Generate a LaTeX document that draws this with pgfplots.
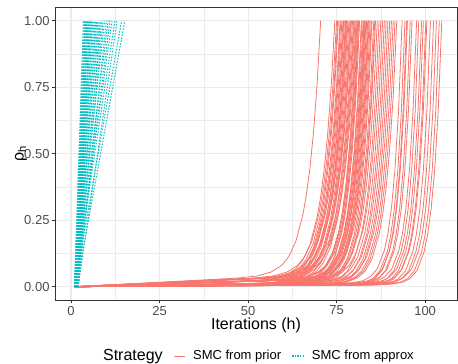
\documentclass[border=0pt]{standalone}
\usepackage{fontspec}
\setmainfont{Liberation Sans}
\usepackage{pgfplots}
\usepackage{pgfplotstable}
\pgfplotsset{compat=1.18}
\definecolor{smcred}{HTML}{F8766D}
\definecolor{smcteal}{HTML}{00BFC4}
\definecolor{gridc}{HTML}{EBEBEB}
\definecolor{axc}{HTML}{333333}
\definecolor{tickc}{HTML}{4D4D4D}

% SMC from prior: groups of runs, each column holds the h values of one run, y = rho_h
\pgfplotstableread{
y n1 n2 n3 n4 n5 n6 n7 n8 n9
0 1 1 1 1 1 1 1 1 1
0.032 46.5 51 52.5 53.8 54 55.2 56.5 52.8 55.8
0.040 52.5 57 58.5 59.8 60 61.2 62.5 58.8 61.8
0.055 56.5 61 62.5 63.8 64 65.2 66.5 62.8 65.8
0.080 59.5 64 65.5 66.8 67 68.2 69.5 65.8 68.8
0.113 61.5 66 67.5 68.8 69 70.2 71.5 67.8 70.8
0.171 63.5 68 69.5 70.8 71 72.2 73.5 69.8 72.8
0.272 65.5 70 71.5 72.8 73 74.2 75.5 71.8 74.8
0.348 66.5 71 72.5 73.8 74 75.2 76.5 72.8 75.8
0.449 67.5 72 73.5 74.8 75 76.2 77.5 73.8 76.8
0.584 68.5 73 74.5 75.8 76 77.2 78.5 74.8 77.8
0.763 69.5 74 75.5 76.8 77 78.2 79.5 75.8 78.8
1 70.5 75 76.5 77.8 78 79.2 80.5 76.8 79.8
}\tAone
\pgfplotstableread{
y n1 n2 n3 n4 n5 n6 n7 n8
0 1 1 1 1 1 1 1 1
0.022 50.5 52 53.5 54.8 55 56 51.3 53.2
0.029 56.5 58 59.5 60.8 61 62 57.3 59.2
0.042 60.5 62 63.5 64.8 65 66 61.3 63.2
0.068 63.5 65 66.5 67.8 68 69 64.3 66.2
0.101 65.5 67 68.5 69.8 70 71 66.3 68.2
0.159 67.5 69 70.5 71.8 72 73 68.3 70.2
0.261 69.5 71 72.5 73.8 74 75 70.3 72.2
0.338 70.5 72 73.5 74.8 75 76 71.3 73.2
0.441 71.5 73 74.5 75.8 76 77 72.3 74.2
0.577 72.5 74 75.5 76.8 77 78 73.3 75.2
0.759 73.5 75 76.5 77.8 78 79 74.3 76.2
1 74.5 76 77.5 78.8 79 80 75.3 77.2
}\tAtwo
\pgfplotstableread{
y n1 n2 n3 n4 n5 n6 n7 n8
0 1 1 1 1 1 1 1 1
0.011 51.5 52.2 53 54.5 55.5 56.2 53.6 54.2
0.017 57.5 58.2 59 60.5 61.5 62.2 59.6 60.2
0.030 61.5 62.2 63 64.5 65.5 66.2 63.6 64.2
0.056 64.5 65.2 66 67.5 68.5 69.2 66.6 67.2
0.089 66.5 67.2 68 69.5 70.5 71.2 68.6 69.2
0.147 68.5 69.2 70 71.5 72.5 73.2 70.6 71.2
0.250 70.5 71.2 72 73.5 74.5 75.2 72.6 73.2
0.329 71.5 72.2 73 74.5 75.5 76.2 73.6 74.2
0.433 72.5 73.2 74 75.5 76.5 77.2 74.6 75.2
0.571 73.5 74.2 75 76.5 77.5 78.2 75.6 76.2
0.755 74.5 75.2 76 77.5 78.5 79.2 76.6 77.2
1 75.5 76.2 77 78.5 79.5 80.2 77.6 78.2
}\tAthree
\pgfplotstableread{
y n1 n2 n3 n4 n5 n6 n7 n8 n9 n10
0 1 1 1 1 1 1 1 1 1 1
0.025 57 57.3 58.5 59.3 60.5 62.5 56.8 58.8 60.8 63.5
0.029 63 63.3 64.5 65.3 66.5 68.5 62.8 64.8 66.8 69.5
0.038 67 67.3 68.5 69.3 70.5 72.5 66.8 68.8 70.8 73.5
0.055 70 70.3 71.5 72.3 73.5 75.5 69.8 71.8 73.8 76.5
0.079 72 72.3 73.5 74.3 75.5 77.5 71.8 73.8 75.8 78.5
0.126 74 74.3 75.5 76.3 77.5 79.5 73.8 75.8 77.8 80.5
0.216 76 76.3 77.5 78.3 79.5 81.5 75.8 77.8 79.8 82.5
0.288 77 77.3 78.5 79.3 80.5 82.5 76.8 78.8 80.8 83.5
0.389 78 78.3 79.5 80.3 81.5 83.5 77.8 79.8 81.8 84.5
0.530 79 79.3 80.5 81.3 82.5 84.5 78.8 80.8 82.8 85.5
0.726 80 80.3 81.5 82.3 83.5 85.5 79.8 81.8 83.8 86.5
1 81 81.3 82.5 83.3 84.5 86.5 80.8 82.8 84.8 87.5
}\tBone
\pgfplotstableread{
y n1 n2 n3 n4 n5 n6 n7 n8 n9 n10 n11 n12
0 1 1 1 1 1 1 1 1 1 1 1 1
0.014 57.5 58.2 59 60 61.5 62 64 65 66.5 56.6 58.7 59.8
0.018 63.5 64.2 65 66 67.5 68 70 71 72.5 62.6 64.7 65.8
0.026 67.5 68.2 69 70 71.5 72 74 75 76.5 66.6 68.7 69.8
0.042 70.5 71.2 72 73 74.5 75 77 78 79.5 69.6 71.7 72.8
0.067 72.5 73.2 74 75 76.5 77 79 80 81.5 71.6 73.7 74.8
0.113 74.5 75.2 76 77 78.5 79 81 82 83.5 73.6 75.7 76.8
0.204 76.5 77.2 78 79 80.5 81 83 84 85.5 75.6 77.7 78.8
0.278 77.5 78.2 79 80 81.5 82 84 85 86.5 76.6 78.7 79.8
0.380 78.5 79.2 80 81 82.5 83 85 86 87.5 77.6 79.7 80.8
0.523 79.5 80.2 81 82 83.5 84 86 87 88.5 78.6 80.7 81.8
0.722 80.5 81.2 82 83 84.5 85 87 88 89.5 79.6 81.7 82.8
1 81.5 82.2 83 84 85.5 86 88 89 90.5 80.6 82.7 83.8
}\tBtwo
\pgfplotstableread{
y n1 n2 n3 n4 n5 n6 n7 n8 n9 n10 n11 n12 n13 n14
0 1 1 1 1 1 1 1 1 1 1 1 1 1 1
0.007 58 59.5 60.2 61 63 64.5 66 67 68 57.2 59.1 61.8 65.5 67.5
0.010 64 65.5 66.2 67 69 70.5 72 73 74 63.2 65.1 67.8 71.5 73.5
0.018 68 69.5 70.2 71 73 74.5 76 77 78 67.2 69.1 71.8 75.5 77.5
0.034 71 72.5 73.2 74 76 77.5 79 80 81 70.2 72.1 74.8 78.5 80.5
0.058 73 74.5 75.2 76 78 79.5 81 82 83 72.2 74.1 76.8 80.5 82.5
0.105 75 76.5 77.2 78 80 81.5 83 84 85 74.2 76.1 78.8 82.5 84.5
0.197 77 78.5 79.2 80 82 83.5 85 86 87 76.2 78.1 80.8 84.5 86.5
0.271 78 79.5 80.2 81 83 84.5 86 87 88 77.2 79.1 81.8 85.5 87.5
0.374 79 80.5 81.2 82 84 85.5 87 88 89 78.2 80.1 82.8 86.5 88.5
0.518 80 81.5 82.2 83 85 86.5 88 89 90 79.2 81.1 83.8 87.5 89.5
0.719 81 82.5 83.2 84 86 87.5 89 90 91 80.2 82.1 84.8 88.5 90.5
1 82 83.5 84.2 85 87 88.5 90 91 92 81.2 83.1 85.8 89.5 91.5
}\tBthree
\pgfplotstableread{
y n1 n2 n3 n4 n5 n6 n7
0 1 1 1 1 1 1 1
0.010 69.5 71 73.6 76.5 79.2 72.3 75
0.012 75.5 77 79.6 82.5 85.2 78.3 81
0.015 79.5 81 83.6 86.5 89.2 82.3 85
0.023 82.5 84 86.6 89.5 92.2 85.3 88
0.037 84.5 86 88.6 91.5 94.2 87.3 90
0.067 86.5 88 90.6 93.5 96.2 89.3 92
0.137 88.5 90 92.6 95.5 98.2 91.3 94
0.200 89.5 91 93.6 96.5 99.2 92.3 95
0.297 90.5 92 94.6 97.5 100.2 93.3 96
0.443 91.5 93 95.6 98.5 101.2 94.3 97
0.664 92.5 94 96.6 99.5 102.2 95.3 98
1 93.5 95 97.6 100.5 103.2 96.3 99
}\tCone
\pgfplotstableread{
y n1 n2 n3 n4 n5 n6 n7 n8 n9 n10
0 1 1 1 1 1 1 1 1 1 1
0.006 70.3 71.8 74.2 75.5 77.5 78.4 80 80.7 70.8 76.2
0.007 76.3 77.8 80.2 81.5 83.5 84.4 86 86.7 76.8 82.2
0.010 80.3 81.8 84.2 85.5 87.5 88.4 90 90.7 80.8 86.2
0.017 83.3 84.8 87.2 88.5 90.5 91.4 93 93.7 83.8 89.2
0.030 85.3 86.8 89.2 90.5 92.5 93.4 95 95.7 85.8 91.2
0.061 87.3 88.8 91.2 92.5 94.5 95.4 97 97.7 87.8 93.2
0.131 89.3 90.8 93.2 94.5 96.5 97.4 99 99.7 89.8 95.2
0.195 90.3 91.8 94.2 95.5 97.5 98.4 100 100.7 90.8 96.2
0.292 91.3 92.8 95.2 96.5 98.5 99.4 101 101.7 91.8 97.2
0.439 92.3 93.8 96.2 97.5 99.5 100.4 102 102.7 92.8 98.2
0.662 93.3 94.8 97.2 98.5 100.5 101.4 103 103.7 93.8 99.2
1 94.3 95.8 98.2 99.5 101.5 102.4 104 104.7 94.8 100.2
}\tCtwo
% SMC from approx: each column one run (start h, end h)
\pgfplotstableread{
y t1 t2 t3 t4 t5 t6 t7 t8 t9 t10 t11 t12 t13 t14 t15 t16 t17 t18 t19 t20 t21 t22 t23 t24 t25 t26 t27 t28 t29 t30 t31 t32
0 1 1 1.5 1 2 1 1.5 1 2 1 1.5 1 2 1 1.5 1 2 1 1.5 1 2 1 1.5 1 2 1 1.5 1 1 2 1 1.5
1 3.5 3.8 4 4.2 4.4 4.6 4.8 5 5.2 5.4 5.6 5.8 6 6.2 6.5 6.8 7 7.3 7.6 8 8.3 8.7 9.1 9.5 10 10.5 11 11.6 12.4 13 14.3 15.2
}\tTeal

\begin{document}
\begin{tikzpicture}
\useasboundingbox (0,0) rectangle (458pt,364pt);
\begin{axis}[
  at={(55pt,64pt)}, anchor=south west,
  width=402pt, height=293pt, scale only axis,
  xmin=-4.52, xmax=109, ymin=-0.05, ymax=1.0515,
  xtick={0,25,50,75,100}, ytick={0,0.25,0.5,0.75,1},
  minor xtick={12.5,37.5,62.5,87.5}, minor ytick={0.125,0.375,0.625,0.875},
  xmajorgrids, ymajorgrids, xminorgrids, yminorgrids,
  major grid style={gridc, line width=1.1pt},
  minor grid style={gridc, line width=0.55pt},
  axis line style={axc, line width=0.9pt},
  tick style={axc, line width=0.9pt},
  tick align=outside, major tick length=3.3pt, minor tick length=0pt,
  xtick pos=bottom, ytick pos=left,
  ticklabel style={font=\fontsize{13}{13}\selectfont, text=tickc},
  xticklabel style={inner sep=2.5pt},
  yticklabel style={inner sep=2pt, /pgf/number format/.cd, fixed, fixed zerofill, precision=2},
  /pgf/number format/assume math mode=true,
  xlabel={Iterations (h)}, ylabel={ρ\textsubscript{h}},
  every axis x label/.style={at={(axis description cs:0.5,-0.0853)}, anchor=center,
    inner sep=0pt, font=\fontsize{16}{16}\selectfont},
  every axis y label/.style={at={(axis description cs:-0.0846,0.5)}, anchor=center, rotate=90,
    inner sep=0pt, font=\fontsize{16}{16}\selectfont},
  legend columns=3,
  legend style={at={(axis description cs:0.1005,-0.1911)}, anchor=west, draw=none, fill=none,
    inner sep=0pt, nodes={inner sep=0pt},
    font=\fontsize{13}{13}\selectfont,
    /tikz/every odd column/.append style={column sep=7.5pt},
    /tikz/every even column/.append style={column sep=10.5pt}},
  legend image code/.code={\draw[#1] (0pt,0pt) -- (11.6pt,0pt);},
]
\addlegendimage{empty legend}
\addlegendentry{\fontsize{16}{16}\selectfont Strategy}
\addlegendimage{draw=smcred, line width=0.8pt}
\addlegendentry{SMC from prior}
\addlegendimage{draw=smcteal, line width=1.1pt, dash pattern=on 1.4pt off 1.2pt}
\addlegendentry{SMC from approx}

\pgfplotsset{redl/.style={smcred, line width=0.8pt, forget plot}}
\pgfplotsinvokeforeach{n1,n2,n3,n4,n5,n6,n7,n8,n9}{\addplot[redl] table[x=#1,y=y]{\tAone};}
\pgfplotsinvokeforeach{n1,n2,n3,n4,n5,n6,n7,n8}{\addplot[redl] table[x=#1,y=y]{\tAtwo};}
\pgfplotsinvokeforeach{n1,n2,n3,n4,n5,n6,n7,n8}{\addplot[redl] table[x=#1,y=y]{\tAthree};}
\pgfplotsinvokeforeach{n1,n2,n3,n4,n5,n6,n7,n8,n9,n10}{\addplot[redl] table[x=#1,y=y]{\tBone};}
\pgfplotsinvokeforeach{n1,n2,n3,n4,n5,n6,n7,n8,n9,n10,n11,n12}{\addplot[redl] table[x=#1,y=y]{\tBtwo};}
\pgfplotsinvokeforeach{n1,n2,n3,n4,n5,n6,n7,n8,n9,n10,n11,n12,n13,n14}{\addplot[redl] table[x=#1,y=y]{\tBthree};}
\pgfplotsinvokeforeach{n1,n2,n3,n4,n5,n6,n7}{\addplot[redl] table[x=#1,y=y]{\tCone};}
\pgfplotsinvokeforeach{n1,n2,n3,n4,n5,n6,n7,n8,n9,n10}{\addplot[redl] table[x=#1,y=y]{\tCtwo};}
\pgfplotsinvokeforeach{t1,t2,t3,t4,t5,t6,t7,t8,t9,t10,t11,t12,t13,t14,t15,t16,t17,t18,t19,t20,t21,t22,t23,t24,t25,t26,t27,t28,t29,t30,t31,t32}{\addplot[smcteal, line width=1pt, dash pattern=on 1.5pt off 1.5pt, forget plot] table[x=#1,y=y]{\tTeal};}
\end{axis}
\end{tikzpicture}
\end{document}
